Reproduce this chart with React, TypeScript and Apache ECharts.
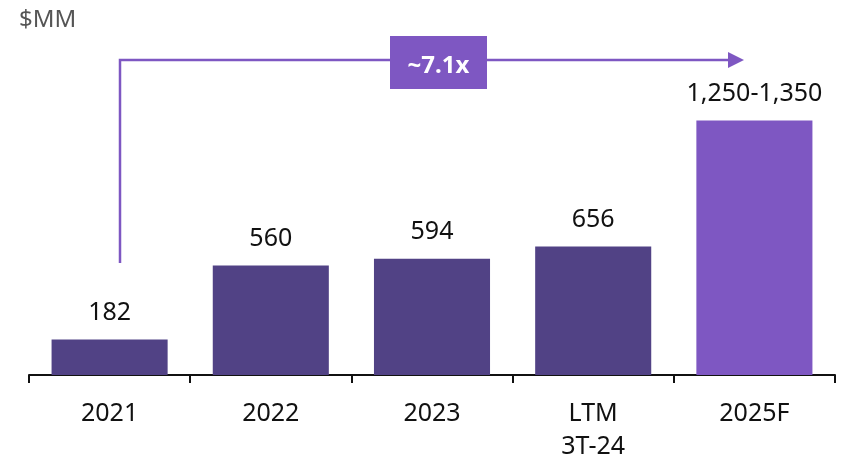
import React, { useEffect, useRef } from "react";
import * as echarts from "echarts";

const categories = ["2021", "2022", "2023", "LTM\n3T-24", "2025F"];
const values = [182, 560, 594, 656, 1300];
const valueLabels = ["182", "560", "594", "656", "1,250-1,350"];
const barColors = ["#514285", "#514285", "#514285", "#514285", "#7e57c2"];
const unitLabel = "$MM";
const growthLabel = "~7.1x";

const FONT = "'Noto Sans', 'Open Sans', sans-serif";
const ACCENT = "#7e57c2";

export default function App() {
  const ref = useRef<HTMLDivElement>(null);
  useEffect(() => {
    if (!ref.current) return;
    const chart = echarts.init(ref.current, null, { renderer: "svg" });
    chart.setOption({
      animation: false,
      grid: { left: 29, right: 9, top: 101, height: 278 },
      xAxis: {
        type: "category",
        data: categories,
        axisLine: { lineStyle: { color: "#111", width: 2 } },
        axisTick: { show: true, length: 8, lineStyle: { color: "#111", width: 2 } },
        axisLabel: {
          color: "#111",
          fontSize: 25,
          fontFamily: FONT,
          margin: 19,
          lineHeight: 33,
        },
      },
      yAxis: {
        type: "value",
        min: 0,
        max: 1400,
        show: false,
        splitLine: { show: false },
      },
      series: [
        {
          type: "bar",
          barWidth: "72%",
          data: values.map((v, i) => ({
            value: v,
            itemStyle: { color: barColors[i] },
            label: { formatter: valueLabels[i] },
          })),
          label: {
            show: true,
            position: "top",
            distance: 17,
            color: "#111",
            fontSize: 25,
            fontFamily: FONT,
          },
        },
      ],
      graphic: [
        {
          type: "text",
          left: 19,
          top: 5,
          style: { text: unitLabel, fill: "#555", fontSize: 24, fontFamily: FONT },
        },
        {
          type: "polyline",
          shape: { points: [[120, 263], [120, 60], [730, 60]] },
          style: { stroke: ACCENT, lineWidth: 2.5, fill: null },
        },
        {
          type: "polygon",
          shape: { points: [[728, 52], [744, 60], [728, 68]] },
          style: { fill: ACCENT },
        },
        {
          type: "rect",
          shape: { x: 390, y: 36, width: 97, height: 53 },
          style: { fill: ACCENT },
        },
        {
          type: "text",
          x: 438.5,
          y: 63,
          style: {
            text: growthLabel,
            fill: "#fff",
            fontSize: 24,
            fontWeight: "bold",
            fontFamily: FONT,
            align: "center",
            verticalAlign: "middle",
          },
        },
      ],
    });
    return () => chart.dispose();
  }, []);
  return (
    <div
      ref={ref}
      style={{ position: "fixed", left: 0, top: 0, width: 844, height: 460 }}
    />
  );
}
